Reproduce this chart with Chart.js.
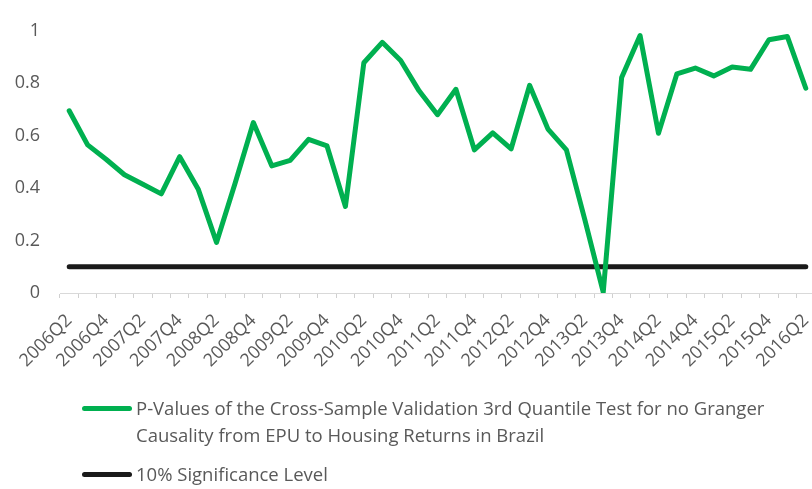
<!DOCTYPE html>
<html lang="en">
<head>
    <meta charset="UTF-8">
    <title>P-Values Cross-Sample Validation</title>
    <script src="https://cdn.jsdelivr.net/npm/chart.js"></script>
    <style>
        body {
            margin: 0;
            width: 812px;
            height: 489px;
            overflow: hidden;
            background: #fff;
            font-family: "Open Sans", sans-serif;
        }
        .wrap {
            position: relative;
            width: 812px;
            height: 489px;
            overflow: hidden;
        }
        canvas {
            position: absolute;
            left: 0;
            top: 0;
        }
        .legend {
            position: absolute;
            left: 82px;
            top: 394px;
            color: #595959;
            font-size: 18.5px;
            white-space: nowrap;
        }
        .legend-item {
            position: relative;
            padding-left: 54px;
            line-height: 27px;
        }
        .legend-item .swatch {
            position: absolute;
            left: 0;
            top: 12px;
            width: 50px;
            height: 5px;
            border-radius: 3px;
        }
        .legend-item + .legend-item {
            margin-top: 12px;
        }
    </style>
</head>
<body>
    <div class="wrap">
        <canvas id="pvalChart" width="815" height="489"></canvas>
        <div class="legend" id="legend"></div>
    </div>

    <script>
        // quarters shown on the x axis
        var quarters = [
            '2006Q2', '2006Q3', '2006Q4', '2007Q1', '2007Q2', '2007Q3', '2007Q4', '2008Q1',
            '2008Q2', '2008Q3', '2008Q4', '2009Q1', '2009Q2', '2009Q3', '2009Q4', '2010Q1',
            '2010Q2', '2010Q3', '2010Q4', '2011Q1', '2011Q2', '2011Q3', '2011Q4', '2012Q1',
            '2012Q2', '2012Q3', '2012Q4', '2013Q1', '2013Q2', '2013Q3', '2013Q4', '2014Q1',
            '2014Q2', '2014Q3', '2014Q4', '2015Q1', '2015Q2', '2015Q3', '2015Q4', '2016Q1',
            '2016Q2'
        ];

        var pValues = [
            0.695, 0.565, 0.51, 0.451, 0.415, 0.378, 0.52, 0.397,
            0.193, 0.417, 0.65, 0.485, 0.506, 0.586, 0.561, 0.33,
            0.878, 0.956, 0.887, 0.771, 0.68, 0.777, 0.546, 0.611,
            0.55, 0.792, 0.625, 0.546, 0.28, 0.003, 0.822, 0.982,
            0.609, 0.836, 0.858, 0.828, 0.862, 0.853, 0.966, 0.978,
            0.781
        ];

        var significance = [
            0.1, 0.1, 0.1, 0.1, 0.1, 0.1, 0.1, 0.1, 0.1, 0.1,
            0.1, 0.1, 0.1, 0.1, 0.1, 0.1, 0.1, 0.1, 0.1, 0.1,
            0.1, 0.1, 0.1, 0.1, 0.1, 0.1, 0.1, 0.1, 0.1, 0.1,
            0.1, 0.1, 0.1, 0.1, 0.1, 0.1, 0.1, 0.1, 0.1, 0.1,
            0.1
        ];

        var seriesNames = [
            'P-Values of the Cross-Sample Validation 3rd Quantile Test for no Granger\nCausality from EPU to Housing Returns in Brazil',
            '10% Significance Level'
        ];

        var textGrey = '#595959';
        var green = '#00b050';
        var black = '#1a1a1a';

        var ctx = document.getElementById('pvalChart').getContext('2d');
        var chart = new Chart(ctx, {
            type: 'line',
            data: {
                labels: quarters,
                datasets: [{
                    label: seriesNames[0],
                    data: pValues,
                    borderColor: green,
                    borderWidth: 5,
                    borderCapStyle: 'round',
                    borderJoinStyle: 'round',
                    pointRadius: 0,
                    tension: 0,
                    fill: false
                }, {
                    label: seriesNames[1],
                    data: significance,
                    borderColor: black,
                    borderWidth: 5,
                    borderCapStyle: 'round',
                    pointRadius: 0,
                    tension: 0,
                    fill: false
                }]
            },
            options: {
                responsive: false,
                animation: false,
                devicePixelRatio: 1,
                layout: {
                    padding: { top: 19, left: 0, right: 0, bottom: 0 }
                },
                plugins: {
                    legend: { display: false },
                    tooltip: { enabled: false }
                },
                scales: {
                    x: {
                        offset: true,
                        grid: {
                            offset: true,
                            drawOnChartArea: false,
                            drawTicks: true,
                            tickLength: 5,
                            color: '#d0d0d0'
                        },
                        border: { color: '#d9d9d9', width: 1 },
                        ticks: {
                            autoSkip: false,
                            maxRotation: 45,
                            minRotation: 45,
                            padding: 12,
                            color: textGrey,
                            font: { family: 'Open Sans', size: 18 },
                            callback: function (value, index) {
                                return index % 2 === 0 ? quarters[index] : '';
                            }
                        },
                        afterFit: function (scale) {
                            scale.height = 196;
                            // don't let rotated labels shrink the plot width
                            scale.paddingLeft = 0;
                            scale.paddingRight = 0;
                        }
                    },
                    y: {
                        min: 0,
                        max: 1,
                        grid: { display: false, drawTicks: false },
                        border: { display: false },
                        ticks: {
                            stepSize: 0.2,
                            padding: 20,
                            color: textGrey,
                            font: { family: 'Open Sans', size: 18 },
                            callback: function (value) {
                                return String(parseFloat(value.toFixed(1)));
                            }
                        },
                        afterFit: function (scale) {
                            scale.width = 60;
                        }
                    }
                }
            }
        });

        // legend built from the dataset labels
        var legendEl = document.getElementById('legend');
        chart.data.datasets.forEach(function (ds) {
            var item = document.createElement('div');
            item.className = 'legend-item';
            var sw = document.createElement('span');
            sw.className = 'swatch';
            sw.style.background = ds.borderColor;
            item.appendChild(sw);
            ds.label.split('\n').forEach(function (line, i) {
                if (i > 0) item.appendChild(document.createElement('br'));
                item.appendChild(document.createTextNode(line));
            });
            legendEl.appendChild(item);
        });
    </script>
</body>
</html>
